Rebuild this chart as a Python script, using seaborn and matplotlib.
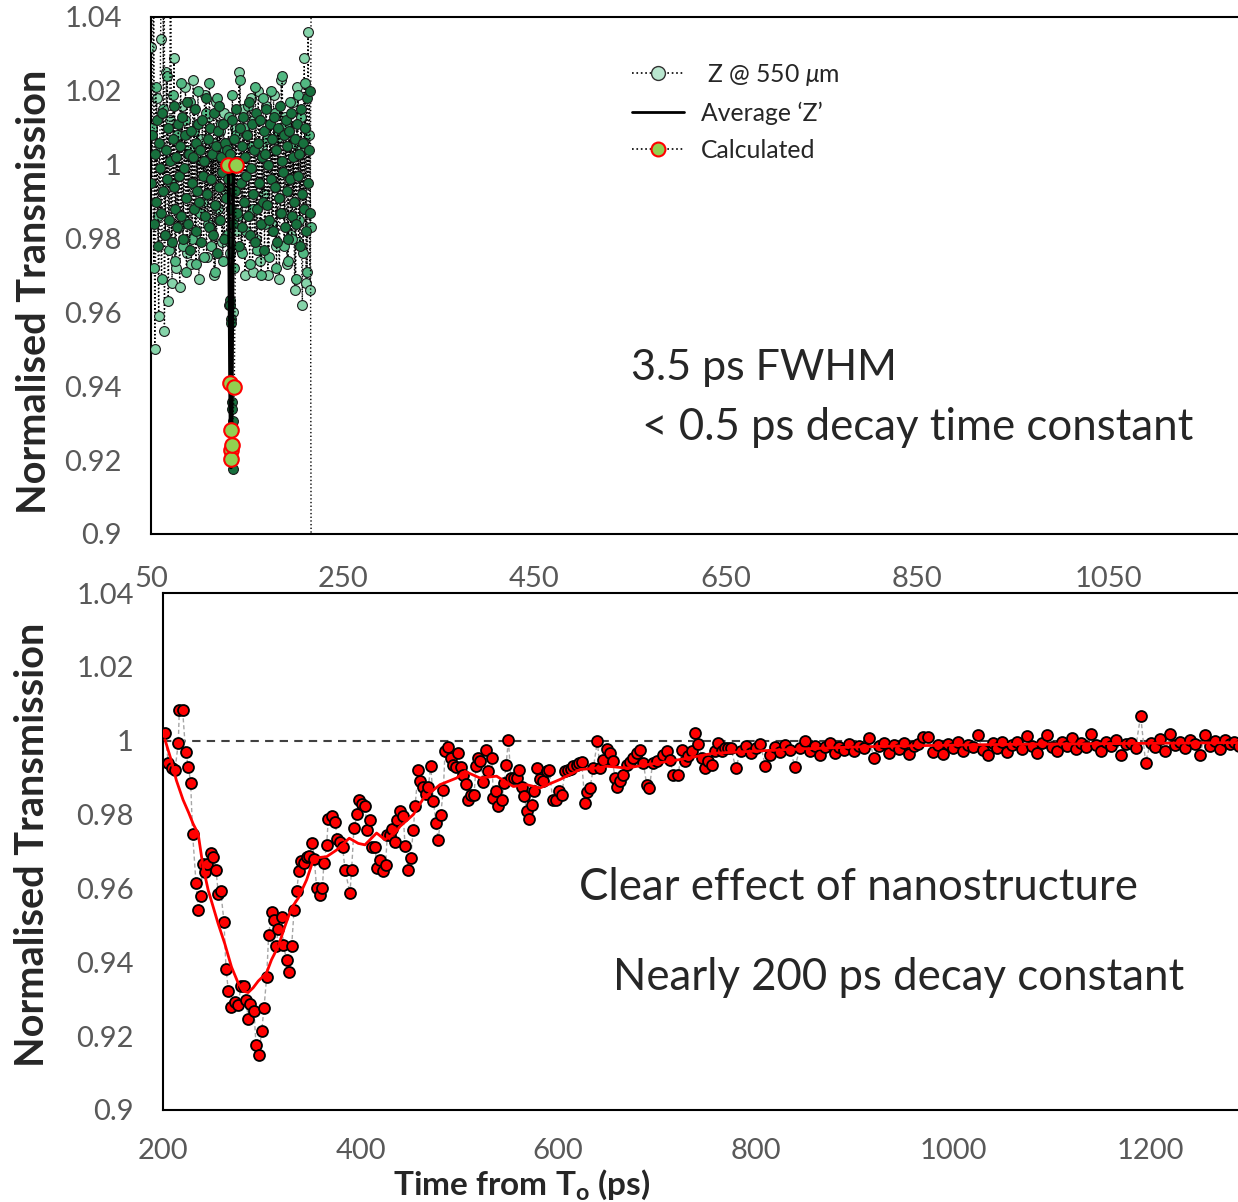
import numpy as np
import matplotlib
matplotlib.use("Agg")
import matplotlib.pyplot as plt
from matplotlib.lines import Line2D
from matplotlib.ticker import FuncFormatter
import seaborn as sns

# ---- top panel: fast scan "Z @ 550 um" (three overlapping sweeps), ps / normalised
z_light_start, z_light_step = 50, 2
z_light = [1.032, 1.080, 0.950, 1.018, 0.959, 1.034, 1.080, 0.955, 1.025, 0.963,
           1.012, 0.968, 1.029, 0.972, 1.008, 0.967, 1.016, 0.985, 1.021, 0.976,
           1.004, 0.973, 1.023, 0.981, 1.011, 0.969, 1.007, 0.990, 1.019, 0.975,
           1.013, 0.983, 1.002, 0.970, 1.017, 0.988, 1.009, 0.979, 1.014, 0.993,
           1.006, 0.976, 1.001, 0.960, 1.010, 0.982, 1.025, 0.977, 1.015, 0.970,
           1.008, 0.986, 1.018, 0.971, 1.012, 0.980, 1.020, 0.974, 1.005, 0.992,
           1.016, 0.970, 1.011, 0.984, 1.019, 0.978, 1.007, 0.969, 1.023, 0.987,
           1.013, 0.973, 1.009, 0.981, 1.017, 0.966, 1.021, 0.979, 1.004, 0.962,
           1.029, 0.968, 1.036, 0.966, 1.100]

z_mid_start, z_mid_step = 51, 2
z_mid = [1.010, 0.972, 1.021, 0.986, 1.005, 0.969, 1.015, 0.981, 1.024, 0.977,
         0.995, 1.019, 0.974, 1.008, 0.983, 1.022, 0.978, 1.012, 0.971, 1.003,
         1.017, 0.980, 1.009, 0.973, 1.020, 0.987, 1.001, 0.975, 1.014, 0.984,
         1.022, 0.978, 1.006, 0.971, 1.018, 0.985, 1.011, 0.974, 1.004, 0.981,
         1.013, 0.979, 1.019, 0.972, 1.008, 0.986, 1.023, 0.976, 1.010, 0.982,
         1.016, 0.973, 1.005, 0.988, 1.021, 0.977, 1.012, 0.970, 1.018, 0.984,
         1.007, 0.975, 1.020, 0.982, 1.014, 0.972, 1.009, 0.987, 1.024, 0.978,
         1.011, 0.974, 1.017, 0.980, 1.006, 0.969, 1.019, 0.985, 1.013, 0.976,
         1.022, 0.971, 1.008, 0.983]

z_dark_start, z_dark_step = 50.5, 1
z_dark = [0.995, 1.008, 1.080, 0.984, 1.003, 0.990, 1.012, 0.978, 1.006, 0.999,
          0.987, 1.014, 0.993, 1.085, 0.981, 1.004, 0.996, 1.010, 0.985, 1.001,
          1.090, 0.979, 1.007, 0.994, 1.016, 0.988, 1.002, 0.983, 1.011, 0.997,
          1.005, 0.986, 1.013, 0.980, 0.999, 1.008, 0.991, 1.017, 0.984, 1.003,
          0.977, 1.009, 0.995, 1.002, 0.988, 1.015, 0.982, 1.006, 0.993, 1.011,
          0.990, 1.004, 0.979, 1.012, 0.997, 1.001, 0.986, 1.018, 0.992, 1.007,
          0.983, 1.010, 0.996, 1.003, 0.981, 1.014, 0.989, 1.005, 0.976, 1.009,
          0.994, 1.016, 0.985, 1.002, 0.998, 1.011, 0.980, 1.006, 0.991, 1.004,
          0.996, 0.962, 1.003, 0.988, 1.012, 0.984, 1.007, 0.993, 1.015, 0.987,
          1.001, 0.978, 1.010, 0.995, 1.005, 0.983, 1.013, 0.990, 1.002, 0.997,
          1.008, 0.986, 1.017, 0.981, 0.999, 1.011, 0.992, 1.004, 0.979, 1.014,
          0.988, 1.006, 0.995, 1.012, 0.984, 1.002, 0.990, 1.009, 0.977, 1.003,
          1.015, 0.989, 1.000, 0.985, 1.011, 0.996, 1.007, 0.982, 1.013, 0.994,
          1.004, 0.979, 1.010, 0.991, 1.016, 0.987, 1.001, 0.998, 1.008, 0.983,
          1.012, 0.993, 1.005, 0.980, 1.009, 0.996, 1.014, 0.986, 1.002, 0.990,
          1.007, 0.984, 1.011, 0.997, 1.003, 0.978, 1.015, 0.992, 1.006, 0.988,
          1.010, 0.982, 1.018, 0.995, 1.004, 1.020, 0.987, 0.850]

z_dip_t = [132.5, 133.0, 133.5, 134.0, 134.5, 135.0, 135.5, 136.0]
z_dip = [0.9634, 0.9620, 0.9581, 0.9571, 0.9357, 0.9338, 0.9307, 0.9175]

avg_z_t = [128, 131, 132.5, 133.5, 134.5, 136, 139]
avg_z = [1.0, 1.0, 0.94, 0.918, 0.94, 1.0, 1.0]

calc_t = [130.7, 132.5, 133.2, 133.6, 134.0, 134.4, 137.0, 138.8]
calc = [1.0, 0.9408, 0.9282, 0.9227, 0.9202, 0.924, 0.9397, 1.0]

# ---- bottom panel: nanostructured sample
red_t = [202.0, 205.4, 208.8, 212.2, 215.5, 216.5, 219.9, 222.9, 225.7, 228.0,
         230.0, 233.4, 235.8, 238.1, 240.2, 242.5, 244.9, 248.3, 250.9, 253.7,
         256.0, 258.4, 261.8, 263.8, 266.2, 268.5, 272.9, 276.3, 278.7, 282.1,
         284.1, 286.4, 288.1, 292.2, 294.2, 296.9, 299.9, 302.3, 305.0, 307.0,
         310.1, 312.4, 314.4, 316.8, 320.2, 321.9, 325.3, 328.0, 330.3, 332.7,
         335.4, 337.7, 339.4, 342.8, 345.5, 348.2, 351.2, 353.2, 355.6, 359.0,
         361.3, 363.0, 365.7, 367.4, 370.8, 374.2, 376.5, 379.2, 381.9, 384.3,
         389.3, 391.0, 393.4, 396.8, 398.8, 401.8, 404.5, 406.9, 409.6, 411.3,
         414.6, 417.0, 419.7, 422.4, 425.4, 427.1, 429.8, 431.9, 434.9, 436.6,
         440.0, 443.4, 445.1, 448.5, 450.8, 453.5, 455.2, 458.6, 460.3, 463.0,
         466.3, 468.7, 471.1, 473.8, 476.5, 478.8, 481.2, 483.9, 485.6, 489.0,
         491.3, 494.0, 496.7, 499.1, 501.5, 504.2, 506.9, 509.2, 511.6, 515.0,
         517.0, 519.4, 521.1, 524.5, 527.2, 529.5, 532.9, 534.6, 537.3, 539.7,
         543.1, 545.4, 547.4, 549.8, 552.2, 555.5, 558.2, 560.9, 563.3, 565.6,
         568.3, 571.0, 573.4, 575.7, 578.4, 581.8, 585.2, 588.5, 591.2, 594.6,
         598.0, 601.4, 603.7, 607.1, 610.5, 612.8, 615.5, 618.9, 621.6, 624.0,
         627.3, 629.7, 632.4, 635.8, 639.8, 642.5, 645.9, 649.3, 652.6, 655.3,
         657.7, 660.1, 662.8, 666.1, 669.5, 672.9, 676.3, 679.6, 683.0, 686.4,
         689.8, 692.5, 695.9, 699.9, 706.6, 710.7, 713.3, 716.7, 721.8, 725.2,
         728.6, 731.9, 735.3, 738.7, 742.0, 745.4, 748.8, 752.2, 755.5, 758.9,
         762.3, 765.7, 769.0, 772.4]
red_v = [1.0021, 0.9940, 0.9925, 0.9921, 0.9995, 1.0082, 1.0082, 0.9969, 0.9930, 0.9886,
         0.9748, 0.9615, 0.9541, 0.9580, 0.9666, 0.9644, 0.9666, 0.9696, 0.9685, 0.9649,
         0.9586, 0.9594, 0.9509, 0.9383, 0.9322, 0.9279, 0.9292, 0.9283, 0.9335, 0.9335,
         0.9299, 0.9247, 0.9287, 0.9267, 0.9175, 0.9150, 0.9213, 0.9277, 0.9361, 0.9475,
         0.9536, 0.9514, 0.9443, 0.9491, 0.9523, 0.9446, 0.9406, 0.9373, 0.9444, 0.9541,
         0.9594, 0.9648, 0.9675, 0.9670, 0.9685, 0.9689, 0.9723, 0.9680, 0.9600, 0.9581,
         0.9600, 0.9670, 0.9718, 0.9788, 0.9795, 0.9780, 0.9734, 0.9726, 0.9712, 0.9651,
         0.9587, 0.9651, 0.9764, 0.9802, 0.9840, 0.9829, 0.9822, 0.9757, 0.9784, 0.9712,
         0.9712, 0.9655, 0.9678, 0.9646, 0.9664, 0.9744, 0.9744, 0.9762, 0.9727, 0.9786,
         0.9811, 0.9795, 0.9714, 0.9651, 0.9683, 0.9759, 0.9822, 0.9922, 0.9890, 0.9875,
         0.9857, 0.9875, 0.9932, 0.9836, 0.9777, 0.9730, 0.9800, 0.9867, 0.9971, 0.9983,
         0.9954, 0.9935, 0.9929, 0.9966, 0.9928, 0.9908, 0.9883, 0.9840, 0.9854, 0.9854,
         0.9931, 0.9954, 0.9944, 0.9887, 0.9976, 0.9917, 0.9954, 0.9845, 0.9863, 0.9822,
         0.9840, 0.9885, 0.9935, 1.0003, 0.9899, 0.9899, 0.9899, 0.9920, 0.9875, 0.9850,
         0.9811, 0.9788, 0.9827, 0.9863, 0.9926, 0.9895, 0.9890, 0.9917, 0.9922, 0.9840,
         0.9840, 0.9863, 0.9854, 0.9917, 0.9922, 0.9924, 0.9931, 0.9935, 0.9940, 0.9942,
         0.9831, 0.9860, 0.9872, 0.9926, 0.9998, 0.9926, 0.9949, 0.9978, 0.9967, 0.9944,
         0.9899, 0.9876, 0.9890, 0.9908, 0.9935, 0.9942, 0.9953, 0.9967, 0.9976, 0.9940,
         0.9881, 0.9872, 0.9940, 0.9944, 0.9962, 0.9971, 0.9949, 0.9908, 0.9908, 0.9976,
         0.9944, 0.9958, 0.9971, 1.0021, 0.9990, 0.9953, 0.9926, 0.9944, 0.9935, 0.9971,
         0.9994, 0.9971, 0.9981, 0.9981]

# later part of the scan, sampled every 5 ps from 775 ps
tail_start, tail_step = 775, 5
tail_v = [0.9981, 0.9926, 0.9972, 0.9985, 0.9968, 0.9979, 0.9991, 0.9931, 0.9962, 0.9984,
          0.9970, 0.9988, 0.9975, 0.9930, 0.9979, 0.9998, 0.9972, 0.9986, 0.9961, 0.9982,
          0.9993, 0.9968, 0.9984, 0.9976, 0.9990, 0.9971, 0.9987, 0.9979, 1.0006, 0.9952,
          0.9985, 0.9993, 0.9968, 0.9989, 0.9977, 0.9995, 0.9963, 0.9986, 0.9991, 1.0011,
          1.0011, 0.9970, 0.9988, 0.9963, 0.9992, 0.9980, 0.9996, 0.9972, 0.9989, 0.9984,
          1.0016, 0.9975, 0.9962, 0.9993, 0.9981, 0.9997, 0.9970, 0.9989, 0.9996, 0.9978,
          1.0014, 0.9985, 0.9968, 0.9994, 1.0016, 0.9982, 0.9971, 0.9996, 0.9987, 1.0006,
          0.9978, 0.9993, 0.9984, 1.0017, 0.9989, 0.9972, 0.9996, 0.9985, 1.0003, 0.9962,
          0.9990, 0.9995, 0.9981, 1.0068, 0.9941, 0.9995, 0.9984, 1.0004, 0.9971, 1.0017,
          0.9988, 0.9997, 0.9979, 1.0003, 0.9992, 0.9962, 1.0015, 0.9986, 0.9998, 0.9978,
          1.0002, 0.9991, 0.9996, 0.9985]

# smoothed trend (red line)
trend_t = [202, 208, 213.5, 220.3, 226, 230.5, 235.6, 240.6, 245.7, 250.7,
           255.8, 262.6, 269.4, 276.1, 281.2, 286.2, 291.3, 296.4, 304.8, 309.9,
           316.7, 323.4, 330.2, 337.0, 345.4, 352.8, 365.7, 375.8, 388.6, 397.7,
           404.5, 416.3, 424.8, 434.9, 440, 453.5, 464, 480.5, 497.3, 505.8,
           521, 537.8, 554.7, 568.2, 581.7, 602, 622.2, 639.1, 649.3, 669.5,
           689.8, 723.5, 757.3, 800, 850, 900, 950, 1000, 1050, 1100,
           1150, 1200, 1250, 1290]
trend_v = [1.0003, 0.9950, 0.9893, 0.9840, 0.9805, 0.9775, 0.9748, 0.9658, 0.9596, 0.9551,
           0.9505, 0.9450, 0.9387, 0.9344, 0.9322, 0.9318, 0.9331, 0.9349, 0.9371, 0.9407,
           0.9443, 0.9497, 0.9547, 0.9574, 0.9623, 0.9682, 0.9686, 0.9704, 0.9736, 0.9722,
           0.9718, 0.9750, 0.9732, 0.9750, 0.9768, 0.9800, 0.9845, 0.9881, 0.9899, 0.9917,
           0.9899, 0.9904, 0.9876, 0.9881, 0.9872, 0.9895, 0.9922, 0.9926, 0.9931, 0.9926,
           0.9935, 0.9949, 0.9966, 0.9972, 0.9978, 0.9983, 0.9986, 0.9988, 0.9990, 0.9991,
           0.9992, 0.9993, 0.9994, 0.9995]

W, H = 1238, 1202
sns.set_style("white")
plt.rcParams['font.family'] = ['Lato', 'DejaVu Sans']
plt.rcParams['mathtext.fontset'] = 'custom'
plt.rcParams['mathtext.rm'] = 'Lato'
plt.rcParams['mathtext.it'] = 'Lato:italic'
plt.rcParams['mathtext.bf'] = 'Lato:bold'

fig = plt.figure(figsize=(W / 100, H / 100), dpi=100)
ax1 = fig.add_axes([151 / W, 1 - 534 / H, 1 - 151 / W, 517 / H])
ax2 = fig.add_axes([163 / W, 1 - 1110 / H, 1 - 163 / W, 517 / H])

light_t = z_light_start + z_light_step * np.arange(len(z_light))
mid_t = z_mid_start + z_mid_step * np.arange(len(z_mid))
dark_t = z_dark_start + z_dark_step * np.arange(len(z_dark))

sweeps = [(light_t, z_light, '#86d4aa'), (mid_t, z_mid, '#52b882'),
          (dark_t, z_dark, '#17703d'), (z_dip_t, z_dip, '#17703d')]
for tt, vv, fc in sweeps:
    sns.lineplot(x=tt, y=vv, ax=ax1, color='black', lw=1, linestyle=':', estimator=None, sort=False, zorder=3)
    sns.scatterplot(x=tt, y=vv, ax=ax1, color=fc, edgecolor='#1a1a1a', linewidth=0.8, s=50, zorder=3, legend=False)
sns.lineplot(x=avg_z_t, y=avg_z, ax=ax1, color='black', lw=2.5, estimator=None, sort=False, zorder=4)
sns.lineplot(x=calc_t, y=calc, ax=ax1, color='black', lw=1, linestyle=':', estimator=None, sort=False, zorder=5)
sns.scatterplot(x=calc_t, y=calc, ax=ax1, color='#92d050', edgecolor='red', linewidth=1.5, s=110, zorder=6, legend=False)

all_t = list(red_t) + list(tail_start + tail_step * np.arange(len(tail_v)))
all_v = list(red_v) + list(tail_v)
ax2.axhline(1.0, color='#404040', lw=1.5, ls=(0, (4, 3)), zorder=1)
sns.lineplot(x=all_t, y=all_v, ax=ax2, color='#a6a6a6', lw=1, linestyle=(0, (3, 2)), estimator=None, sort=False, zorder=2)
sns.scatterplot(x=all_t, y=all_v, ax=ax2, color='red', edgecolor='black', linewidth=1.3, s=62, zorder=3, legend=False)
sns.lineplot(x=trend_t, y=trend_v, ax=ax2, color='red', lw=2, estimator=None, sort=False, zorder=4)

fmt = FuncFormatter(lambda v, p: f'{round(v, 2):g}')
for ax, xl, xt, xpad in [(ax1, (50, 1185), np.arange(50, 1200, 200), 23),
                         (ax2, (200, 1288.6), np.arange(200, 1300, 200), 20)]:
    ax.set_xlim(*xl)
    ax.set_ylim(0.9, 1.04)
    ax.set_xticks(xt)
    ax.set_yticks(np.arange(0.9, 1.041, 0.02))
    ax.yaxis.set_major_formatter(fmt)
    ax.tick_params(direction='in', length=10, width=1.5, labelsize=21, labelcolor='#595959')
    ax.tick_params(axis='x', pad=xpad)
    ax.tick_params(axis='y', pad=21)
    ax.set_xlabel('')
    ax.set_ylabel('')
    for s in ['left', 'bottom', 'top']:
        ax.spines[s].set_color('black')
        ax.spines[s].set_linewidth(1.5)
    ax.spines['right'].set_visible(False)

fig.text(35 / W, 1 - 292 / H, 'Normalised Transmission', rotation=90, ha='center', va='center',
         fontsize=28.5, fontweight='bold')
fig.text(33 / W, 1 - 845 / H, 'Normalised Transmission', rotation=90, ha='center', va='center',
         fontsize=28.5, fontweight='bold')
fig.text(522 / W, 1 - 1185 / H, r'Time from T$_\mathbf{o}$ (ps)', ha='center', va='center',
         fontsize=24, fontweight='bold')

fig.text(631 / W, 1 - 368 / H, '3.5 ps FWHM', fontsize=31, va='center', ha='left')
fig.text(631 / W, 1 - 427 / H, ' < 0.5 ps decay time constant', fontsize=31.5, va='center', ha='left')
fig.text(579 / W, 1 - 888 / H, 'Clear effect of nanostructure', fontsize=31.5, va='center', ha='left')
fig.text(613 / W, 1 - 978 / H, 'Nearly 200 ps decay constant', fontsize=31.5, va='center', ha='left')

handles = [Line2D([], [], color='black', ls=':', lw=1.2, marker='o', ms=10, mfc='#b9e6cf', mec='#333333'),
           Line2D([], [], color='black', lw=2),
           Line2D([], [], color='black', ls=':', lw=1.2, marker='o', ms=10, mfc='#92d050', mec='red', mew=1.5)]
labels = [r' Z @ 550 $\mu$m', 'Average \u2018Z\u2019', 'Calculated']
ax1.legend(handles, labels, loc='upper left', bbox_to_anchor=(632 / W, 1 - 62 / H),
           bbox_transform=fig.transFigure, frameon=False, fontsize=17.8, handlelength=2.1,
           handletextpad=0.7, labelspacing=0.55, borderpad=0, borderaxespad=0)

fig.savefig('out.png', dpi=100)
